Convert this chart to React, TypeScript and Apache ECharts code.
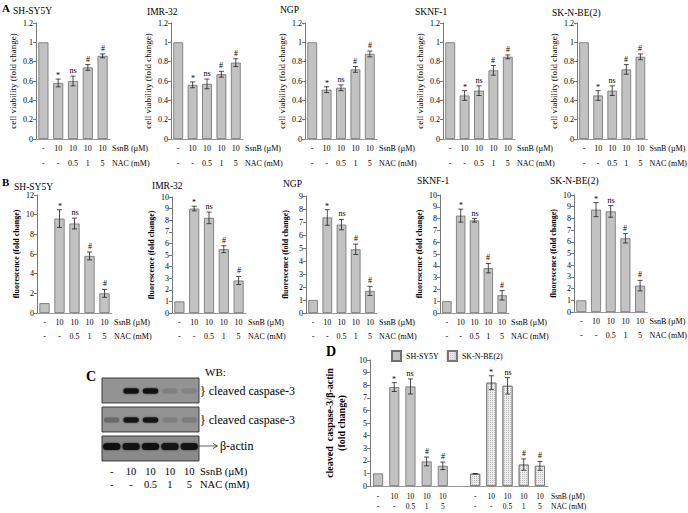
import React, { useEffect, useRef } from 'react';
import * as echarts from 'echarts';

const SERIF = '"Liberation Serif", "Times New Roman", serif';

// ---------- data ----------
const cellLines = ['SH-SY5Y', 'IMR-32', 'NGP', 'SKNF-1', 'SK-N-BE(2)'];
const ssnbLabels = ['-', '10', '10', '10', '10'];
const nacLabels = ['-', '-', '0.5', '1', '5'];
const significance = ['', '*', 'ns', '#', '#'];

// A: cell viability (fold change)
const viabSHSY5Y = [1, 0.58, 0.6, 0.74, 0.86];
const viabSHSY5YErr = [0, 0.04, 0.05, 0.03, 0.02];
const viabIMR32 = [1, 0.56, 0.57, 0.67, 0.79];
const viabIMR32Err = [0, 0.03, 0.05, 0.03, 0.04];
const viabNGP = [1, 0.51, 0.53, 0.72, 0.88];
const viabNGPErr = [0, 0.03, 0.03, 0.03, 0.03];
const viabSKNF1 = [1, 0.45, 0.5, 0.71, 0.85];
const viabSKNF1Err = [0, 0.05, 0.05, 0.05, 0.02];
const viabSKNBE2 = [1, 0.45, 0.5, 0.72, 0.85];
const viabSKNBE2Err = [0, 0.05, 0.05, 0.05, 0.03];
const viabMax = 1.2;
const viabInterval = 0.2;

// B: fluorescence (fold change)
const fluoSHSY5Y = [1, 9.6, 9.1, 5.8, 2.0];
const fluoSHSY5YErr = [0, 0.9, 0.55, 0.4, 0.4];
const fluoIMR32 = [1, 9.0, 8.2, 5.5, 2.8];
const fluoIMR32Err = [0, 0.2, 0.5, 0.3, 0.35];
const fluoNGP = [1, 7.35, 6.8, 4.9, 1.7];
const fluoNGPErr = [0, 0.6, 0.4, 0.4, 0.35];
const fluoSKNF1 = [1, 8.25, 7.85, 3.8, 1.5];
const fluoSKNF1Err = [0, 0.55, 0.15, 0.4, 0.4];
const fluoSKNBE2 = [1, 8.75, 8.6, 6.3, 2.25];
const fluoSKNBE2Err = [0, 0.6, 0.5, 0.4, 0.45];
const fluoMax = [12, 10, 9, 10, 10];
const fluoInterval = [2, 1, 1, 1, 1];

// C: western blot band intensities (lanes x blots)
const blotNames = ['} cleaved caspase-3', '} cleaved caspase-3', 'β-actin'];
const bandCaspaseA = [0, 0.95, 0.95, 0.12, 0.1];
const bandCaspaseB = [0.25, 0.9, 0.9, 0.12, 0.14];
const bandActin = [0.95, 0.92, 0.95, 1, 0.92];

// D: cleaved caspase-3 / beta-actin
const dSeriesNames = ['SH-SY5Y', 'SK-N-BE(2)'];
const dSHSY5Y = [1, 7.85, 7.9, 1.95, 1.6];
const dSHSY5YErr = [0, 0.35, 0.6, 0.35, 0.3];
const dSKNBE2 = [0.97, 8.2, 7.95, 1.7, 1.6];
const dSKNBE2Err = [0.02, 0.55, 0.65, 0.45, 0.35];
const dMax = 10;
const dInterval = 1;

// ---------- layout ----------
const rowAPos = [[36, 74], [171, 72], [305, 72], [443, 72], [577, 73]];
const rowBPos = [[37, 75, 195, 118], [172, 74, 197, 116], [306, 71, 196, 117], [440, 69, 195, 118], [574, 75, 195, 117]];
const rowATitlePos = [[13, 11], [147, 12], [280, 10], [415, 12], [552, 13]];
const rowBTitlePos = [[14, 187], [152, 186], [283, 184], [417, 181], [550, 181]];

const catLabels = ssnbLabels.map((s, i) => s + '\n' + nacLabels[i]);

function errRender() {
  return (params: any, api: any) => {
    const x = api.value(0);
    const m = api.value(1);
    const e = api.value(2);
    if (m == null || isNaN(m)) return null;
    const top = api.coord([x, m + e]);
    const bot = api.coord([x, m - e]);
    const cap = 2.5;
    const ls = { stroke: '#222', lineWidth: 0.8, fill: null };
    const children: any[] = [];
    if (e > 0) {
      children.push(
        { type: 'line', shape: { x1: top[0], y1: top[1], x2: bot[0], y2: bot[1] }, style: ls },
        { type: 'line', shape: { x1: top[0] - cap, y1: top[1], x2: top[0] + cap, y2: top[1] }, style: ls },
        { type: 'line', shape: { x1: bot[0] - cap, y1: bot[1], x2: bot[0] + cap, y2: bot[1] }, style: ls },
      );
    }
    const s = significance[params.dataIndex];
    if (s) {
      children.push({
        type: 'text',
        x: Math.round(top[0]),
        y: Math.round(top[1] - (s === '*' ? 0 : 2)),
        style: {
          text: s, align: 'center', verticalAlign: 'bottom', fontSize: 8, fontFamily: SERIF,
          fill: '#000000', stroke: 'none', lineWidth: 0, opacity: 1,
        },
      });
    }
    return { type: 'group', children };
  };
}

function errSeries(gi: number, name: string, xs: number[], means: number[], errs: number[]) {
  return {
    type: 'custom', name: name + '-err', xAxisIndex: gi, yAxisIndex: gi, z: 5, silent: true,
    itemStyle: { color: '#000' },
    data: means.map((m, j) => [xs[j], m, errs[j]]),
    encode: { x: 0, y: 1 },
    renderItem: errRender(),
  };
}

function valueAxis(gi: number, max: number, interval: number, name: string, nameGap: number, nameStyle: any) {
  return {
    type: 'value',
    gridIndex: gi,
    min: 0,
    max,
    interval,
    name,
    nameLocation: 'middle',
    nameRotate: 90,
    nameGap,
    nameTextStyle: { fontFamily: SERIF, color: '#000', ...nameStyle },
    axisLine: { show: true, lineStyle: { color: '#777', width: 1 } },
    axisTick: { show: true, length: 3, lineStyle: { color: '#777' } },
    axisLabel: { fontSize: 8, margin: 3, color: '#000', fontFamily: SERIF },
    splitLine: { show: false },
  };
}

function catAxis(gi: number, data: string[], fontSize: number, lineHeight: number, margin: number, nameGap: number, showLine = true) {
  return {
    type: 'category',
    gridIndex: gi,
    position: 'bottom',
    data,
    name: 'SsnB (µM)\nNAC (mM)',
    nameLocation: 'end',
    nameGap,
    nameTextStyle: {
      fontFamily: SERIF, fontSize, lineHeight, color: '#000', align: 'left', verticalAlign: 'top',
      padding: [margin, 0, 0, 0],
    },
    axisLine: { show: showLine, onZero: false, lineStyle: { color: '#999', width: 1 } },
    axisTick: { show: false },
    axisLabel: { interval: 0, fontSize, lineHeight, margin, color: '#000', fontFamily: SERIF },
  };
}

const barStyle = { color: '#c2c2c2', borderColor: '#6f6f6f', borderWidth: 0.8 };

function buildOption() {
  const grid: any[] = [];
  const xAxis: any[] = [];
  const yAxis: any[] = [];
  const series: any[] = [];
  const idx = [0, 1, 2, 3, 4];

  const viabMeans = [viabSHSY5Y, viabIMR32, viabNGP, viabSKNF1, viabSKNBE2];
  const viabErrs = [viabSHSY5YErr, viabIMR32Err, viabNGPErr, viabSKNF1Err, viabSKNBE2Err];
  const fluoMeans = [fluoSHSY5Y, fluoIMR32, fluoNGP, fluoSKNF1, fluoSKNBE2];
  const fluoErrs = [fluoSHSY5YErr, fluoIMR32Err, fluoNGPErr, fluoSKNF1Err, fluoSKNBE2Err];

  // Row A
  cellLines.forEach((cl, i) => {
    const gi = grid.length;
    grid.push({ left: rowAPos[i][0], width: rowAPos[i][1], top: 23, height: 116 });
    xAxis.push(catAxis(gi, catLabels, 8, 15, 2, 2));
    yAxis.push(valueAxis(gi, viabMax, viabInterval, 'cell viability (fold change)', 19, { fontSize: 9 }));
    series.push({ type: 'bar', name: 'A-' + cl, xAxisIndex: gi, yAxisIndex: gi, data: viabMeans[i], barWidth: '68%', itemStyle: barStyle, silent: true });
    series.push(errSeries(gi, 'A-' + cl, idx, viabMeans[i], viabErrs[i]));
  });

  // Row B
  cellLines.forEach((cl, i) => {
    const gi = grid.length;
    const [left, width, top, height] = rowBPos[i];
    grid.push({ left, width, top, height });
    xAxis.push(catAxis(gi, catLabels, 8, 14, 2, 2));
    yAxis.push(valueAxis(gi, fluoMax[i], fluoInterval[i], 'fluorescence (fold change)', 17, { fontSize: 8, fontWeight: 'bold' }));
    series.push({ type: 'bar', name: 'B-' + cl, xAxisIndex: gi, yAxisIndex: gi, data: fluoMeans[i], barWidth: '68%', itemStyle: barStyle, silent: true });
    series.push(errSeries(gi, 'B-' + cl, idx, fluoMeans[i], fluoErrs[i]));
  });

  // D
  {
    const gi = grid.length;
    grid.push({ left: 370, width: 178, top: 360, height: 126 });
    const dCats = [...catLabels, '', ...catLabels];
    xAxis.push(catAxis(gi, dCats, 7.5, 10, 5, 3));
    yAxis.push(valueAxis(gi, dMax, dInterval, 'cleaved  caspase-3/β-actin\n(fold change)', 23, { fontSize: 10, fontWeight: 'bold', lineHeight: 12 }));
    const n = catLabels.length;
    const d1 = [...dSHSY5Y, ...new Array(n + 1).fill(null)];
    const d2 = [...new Array(n + 1).fill(null), ...dSKNBE2];
    series.push({ type: 'bar', name: dSeriesNames[0], xAxisIndex: gi, yAxisIndex: gi, data: d1, barWidth: '62%', barGap: '-100%', itemStyle: barStyle, silent: true });
    series.push({
      type: 'bar', name: dSeriesNames[1], xAxisIndex: gi, yAxisIndex: gi, data: d2, barWidth: '62%', barGap: '-100%', silent: true,
      itemStyle: {
        color: '#ededed', borderColor: '#777', borderWidth: 0.8,
        decal: { symbol: 'rect', symbolSize: 1, dashArrayX: [1, 1], dashArrayY: [1, 1], color: 'rgba(120,120,120,0.45)' },
      },
    });
    series.push(errSeries(gi, 'D1', idx, dSHSY5Y, dSHSY5YErr));
    series.push(errSeries(gi, 'D2', idx.map((j) => j + n + 1), dSKNBE2, dSKNBE2Err));
  }

  // C: western blot
  {
    const gi = grid.length;
    grid.push({ left: 102, width: 97, top: 378, height: 87 });
    xAxis.push(catAxis(gi, catLabels, 10.5, 13, 0, 1, false));
    yAxis.push({ type: 'value', gridIndex: gi, min: 0, max: 3, inverse: true, show: false });
    const bandOffsets = [0.45, 0.45, 0.36];
    series.push({
      type: 'custom', name: 'blotBg', xAxisIndex: gi, yAxisIndex: gi, silent: true,
      data: blotNames.map((_, r) => [0, r]),
      encode: { x: 0, y: 1 },
      renderItem: (params: any, api: any) => {
        const cs = params.coordSys;
        const r = api.value(1);
        const y0 = api.coord([0, r])[1];
        const h = api.size([0, 0.86])[1];
        return {
          type: 'rect',
          shape: { x: cs.x, y: y0, width: cs.width, height: h },
          style: { fill: r === 2 ? '#8a8a8a' : '#939393', stroke: '#3a3a3a', lineWidth: 1 },
        };
      },
    });
    const bands: any[] = [];
    [bandCaspaseA, bandCaspaseB, bandActin].forEach((arr, r) => arr.forEach((v, lane) => bands.push([lane, r, v])));
    series.push({
      type: 'custom', name: 'blotBands', xAxisIndex: gi, yAxisIndex: gi, silent: true, z: 3,
      data: bands,
      encode: { x: 0, y: 1 },
      renderItem: (params: any, api: any) => {
        const lane = api.value(0);
        const r = api.value(1);
        const v = api.value(2);
        if (!v) return null;
        const c = api.coord([lane, r + bandOffsets[r]]);
        const w = api.size([1, 0])[0] * (r === 2 ? 0.9 : 0.8);
        const h = r === 2 ? 7 : 5.5;
        return {
          type: 'rect',
          shape: { x: c[0] - w / 2, y: c[1] - h / 2, width: w, height: h, r: h / 2 },
          style: { fill: `rgba(18,18,18,${v})`, shadowBlur: 2, shadowColor: `rgba(0,0,0,${v * 0.6})` },
        };
      },
    });
  }

  const txt = (text: string, x: number, y: number, fontSize: number, extra: any = {}) => ({
    type: 'text', x, y, silent: true,
    style: { text, fontSize, fontFamily: SERIF, fill: '#000', verticalAlign: 'middle', align: 'left', ...extra },
  });

  const graphic: any[] = [
    txt('A', 2, 8, 11, { fontWeight: 'bold' }),
    txt('B', 2, 182, 11, { fontWeight: 'bold' }),
    txt('C', 86, 376, 14, { fontWeight: 'bold' }),
    txt('D', 326, 351, 14, { fontWeight: 'bold' }),
    txt('WB:', 205, 372, 11),
    txt(blotNames[0], 200, 391, 12),
    txt(blotNames[1], 200, 420, 12),
    txt(blotNames[2], 220, 446, 12),
    { type: 'line', silent: true, shape: { x1: 199, y1: 446, x2: 217, y2: 446 }, style: { stroke: '#333', lineWidth: 0.8 } },
    { type: 'polyline', silent: true, shape: { points: [[213, 443.5], [217.5, 446], [213, 448.5]] }, style: { stroke: '#333', lineWidth: 0.8, fill: 'none' } },
  ];
  cellLines.forEach((cl, i) => {
    graphic.push(txt(cl, rowATitlePos[i][0], rowATitlePos[i][1], 9.5));
    graphic.push(txt(cl, rowBTitlePos[i][0], rowBTitlePos[i][1], 9.5));
  });

  return {
    animation: false,
    backgroundColor: '#fff',
    textStyle: { fontFamily: SERIF },
    grid,
    xAxis,
    yAxis,
    series,
    legend: {
      data: dSeriesNames,
      left: 391,
      top: 350,
      icon: 'rect',
      itemWidth: 9,
      itemHeight: 10,
      itemGap: 8,
      padding: 0,
      textStyle: { fontSize: 8, fontFamily: SERIF, color: '#000' },
      selectedMode: false,
    },
    graphic,
  };
}

export default function App() {
  const ref = useRef<HTMLDivElement>(null);
  useEffect(() => {
    if (!ref.current) return;
    const chart = echarts.init(ref.current, undefined, { renderer: 'svg' });
    chart.setOption(buildOption() as any);
    return () => chart.dispose();
  }, []);
  return (
    <div
      ref={ref}
      style={{ position: 'fixed', left: 0, top: 0, width: 688, height: 513, background: '#fff' }}
    />
  );
}
